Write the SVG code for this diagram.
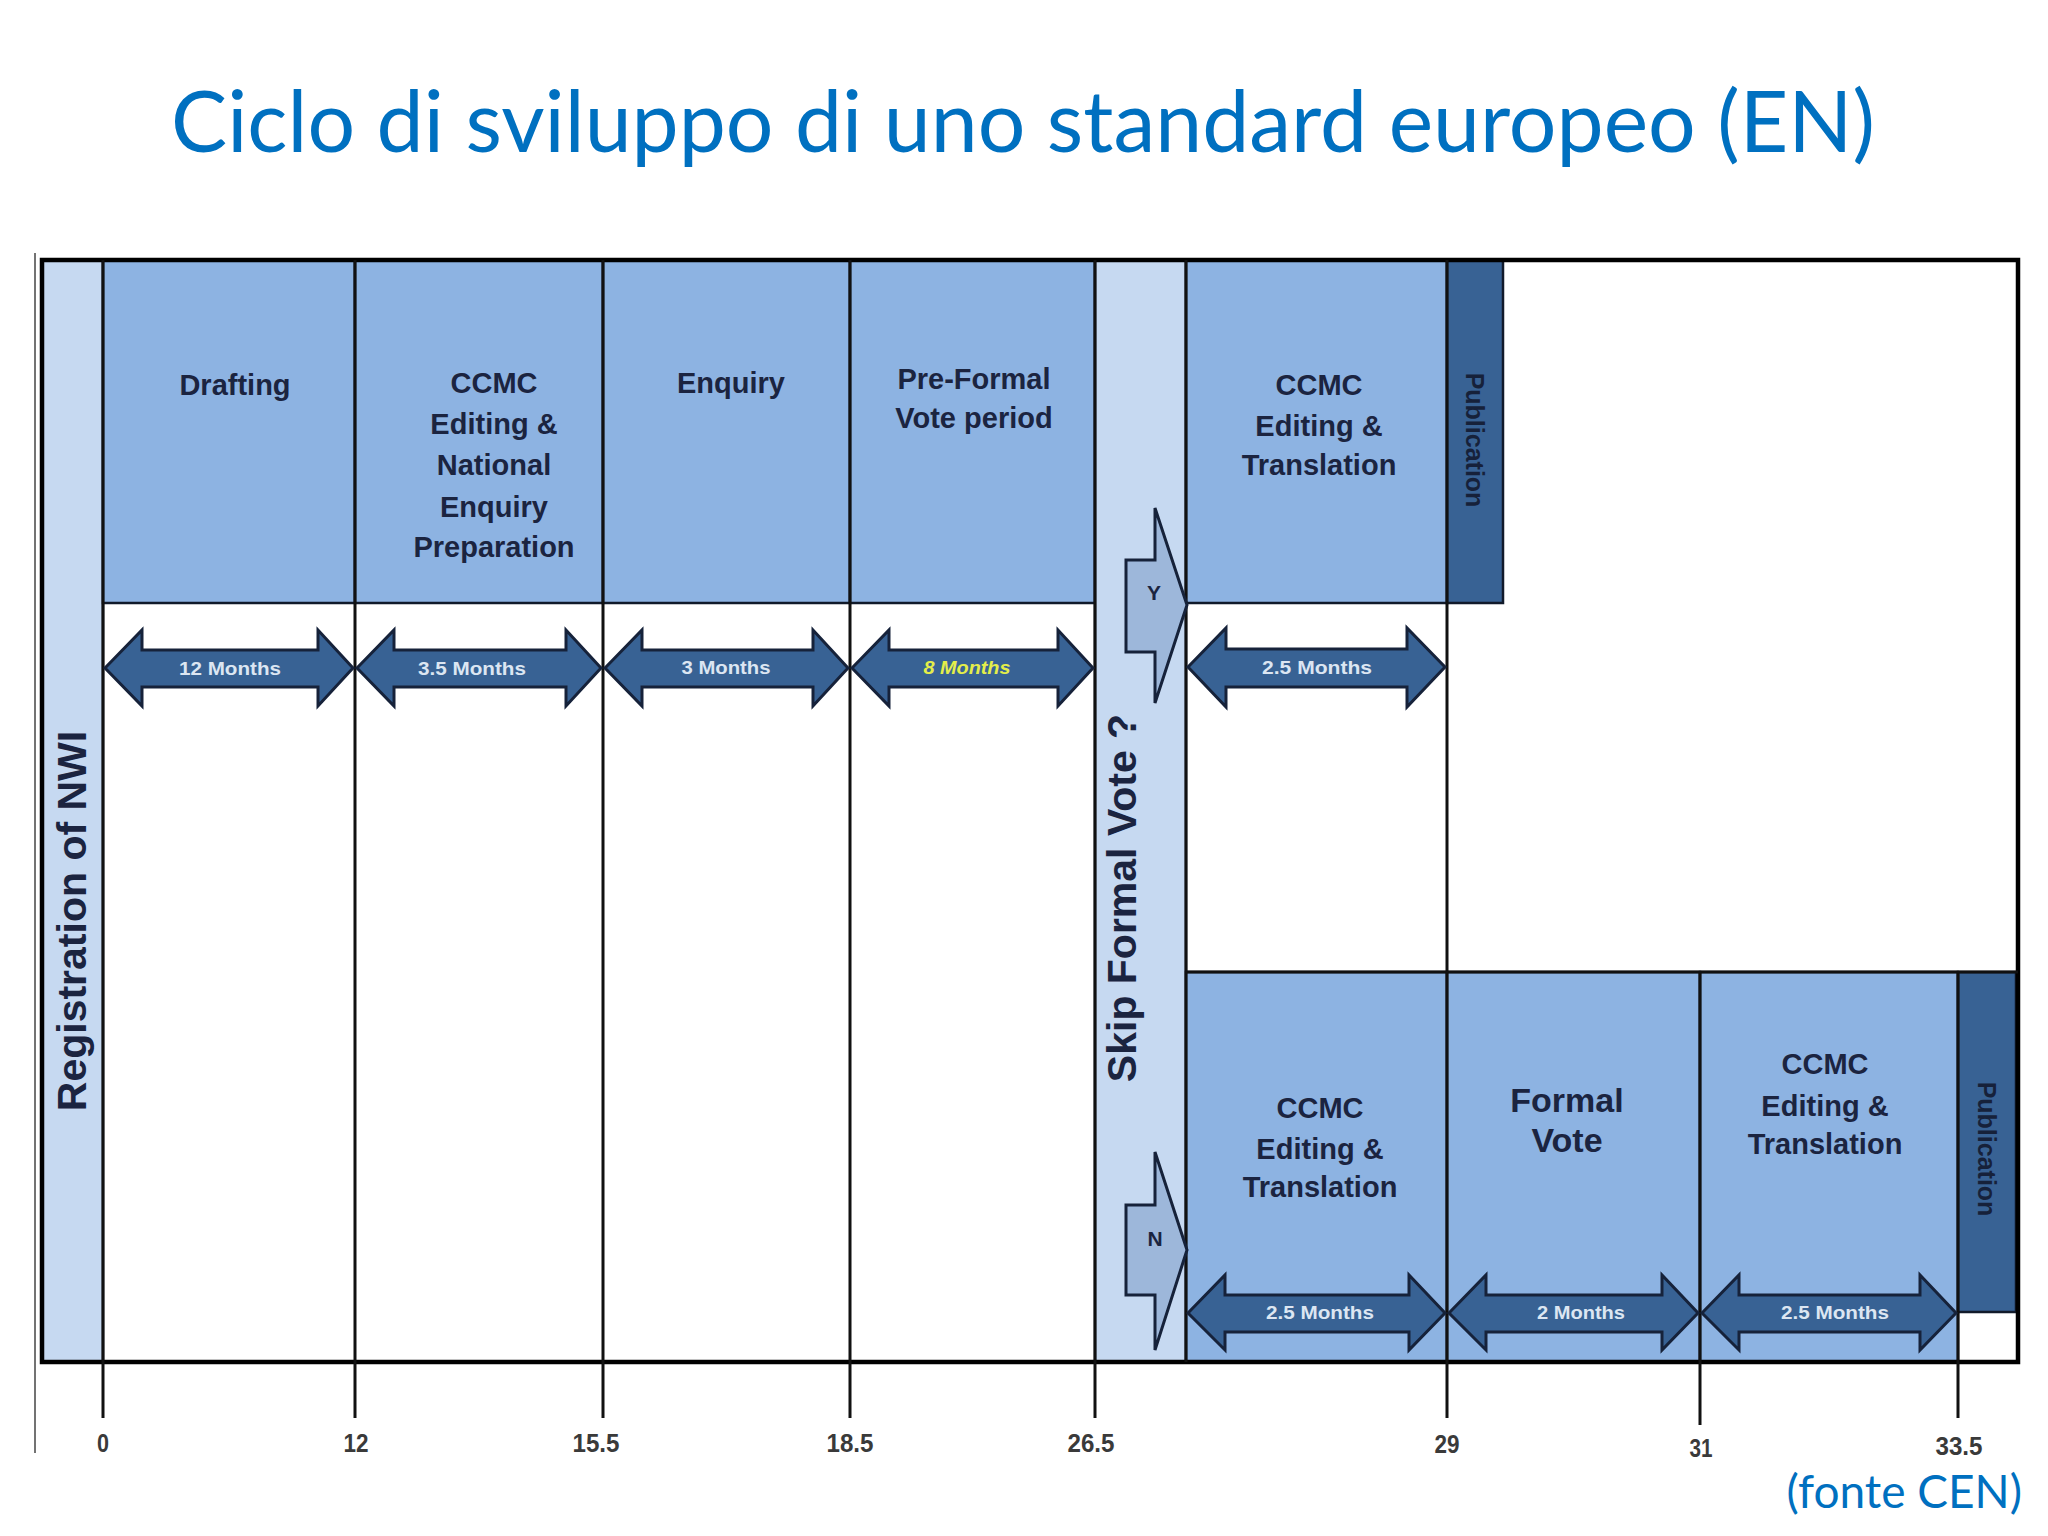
<svg xmlns="http://www.w3.org/2000/svg" width="2048" height="1536" viewBox="0 0 2048 1536">
<defs>
<style>
.phase{fill:#8DB3E2;stroke:#111a2a;stroke-width:2.5}
.light{fill:#C6D9F1;stroke:#111a2a;stroke-width:2.5}
.pub{fill:#386294;stroke:#111a2a;stroke-width:2.5}
.grid{stroke:#111;stroke-width:3;fill:none}
.dbl{fill:#386294;stroke:#16223a;stroke-width:3;stroke-linejoin:miter}
.yn{fill:#9DB7DA;stroke:#16223a;stroke-width:3}
.ptxt{font-family:"Liberation Sans",Arial,sans-serif;font-weight:bold;font-size:29px;fill:#1B2440;text-anchor:middle}
.big{font-size:34px}
.vtxt{font-family:"Liberation Sans",Arial,sans-serif;font-weight:bold;font-size:41px;fill:#1B2440;text-anchor:middle}
.pubtxt{font-family:"Liberation Sans",Arial,sans-serif;font-weight:bold;font-size:25px;fill:#16213a;text-anchor:middle}
.alab{font-family:"Liberation Sans",Arial,sans-serif;font-weight:bold;font-size:18px;fill:#DCE6F2;text-anchor:middle}
.tick{font-family:"Liberation Sans",Arial,sans-serif;font-weight:bold;font-size:26px;fill:#3a3a3a;text-anchor:middle}
.yl{font-family:"Liberation Sans",Arial,sans-serif;font-weight:bold;font-size:21px;fill:#1B2440;text-anchor:middle}
</style>
</defs>
<rect width="2048" height="1536" fill="#ffffff"/>
<text x="1023" y="152" font-family="Lato,'Open Sans',sans-serif" font-size="86" fill="#0070C0" text-anchor="middle" textLength="1704" lengthAdjust="spacingAndGlyphs">Ciclo di sviluppo di uno standard europeo (EN)</text>
<text x="2022" y="1508" font-family="Lato,'Open Sans',sans-serif" font-size="46" fill="#0070C0" text-anchor="end">(fonte CEN)</text>

<line x1="35" y1="253" x2="35" y2="1453" stroke="#444" stroke-width="1.5"/>

<g id="reg"><rect class="light" x="42" y="260" width="61" height="1102"/>
<text class="vtxt" transform="translate(86,921) rotate(-90)">Registration of NWI</text></g>
<g id="drafting"><rect class="phase" x="103" y="260" width="252" height="343"/>
<text class="ptxt" x="235" y="395">Drafting</text></g>
<g id="ccmc-enquiry-prep"><rect class="phase" x="355" y="260" width="248" height="343"/>
<text class="ptxt" x="494" y="393">CCMC</text><text class="ptxt" x="494" y="434">Editing &amp;</text><text class="ptxt" x="494" y="475">National</text><text class="ptxt" x="494" y="517">Enquiry</text><text class="ptxt" x="494" y="557">Preparation</text></g>
<g id="enquiry"><rect class="phase" x="603" y="260" width="247" height="343"/>
<text class="ptxt" x="731" y="393">Enquiry</text></g>
<g id="preformal"><rect class="phase" x="850" y="260" width="245" height="343"/>
<text class="ptxt" x="974" y="389">Pre-Formal</text><text class="ptxt" x="974" y="428">Vote period</text></g>
<g id="skip"><rect class="light" x="1095" y="260" width="91" height="1102"/>
<text class="vtxt" transform="translate(1136,898) rotate(-90)">Skip Formal Vote ?</text></g>
<g id="ccmc-y"><rect class="phase" x="1186" y="260" width="261" height="343"/>
<text class="ptxt" x="1319" y="395">CCMC</text><text class="ptxt" x="1319" y="436">Editing &amp;</text><text class="ptxt" x="1319" y="475">Translation</text></g>
<g id="pub-y"><rect class="pub" x="1447" y="260" width="56" height="343"/>
<text class="pubtxt" transform="translate(1466,440) rotate(90)">Publication</text></g>
<g id="ccmc-n"><rect class="phase" x="1186" y="972" width="261" height="390"/>
<text class="ptxt" x="1320" y="1118">CCMC</text><text class="ptxt" x="1320" y="1159">Editing &amp;</text><text class="ptxt" x="1320" y="1197">Translation</text></g>
<g id="formal-vote"><rect class="phase" x="1447" y="972" width="253" height="390"/>
<text class="ptxt big" x="1567" y="1112">Formal</text><text class="ptxt big" x="1567" y="1152">Vote</text></g>
<g id="ccmc-final"><rect class="phase" x="1700" y="972" width="258" height="390"/>
<text class="ptxt" x="1825" y="1074">CCMC</text><text class="ptxt" x="1825" y="1116">Editing &amp;</text><text class="ptxt" x="1825" y="1154">Translation</text></g>
<g id="pub-n"><rect class="pub" x="1958" y="972" width="58" height="340"/>
<text class="pubtxt" transform="translate(1978,1149) rotate(90)">Publication</text></g>

<g id="grid">
<rect x="42" y="260" width="1976" height="1102" fill="none" stroke="#000" stroke-width="4.5"/>
<line class="grid" x1="103" y1="260" x2="103" y2="1418"/>
<line class="grid" x1="355" y1="260" x2="355" y2="1418"/>
<line class="grid" x1="603" y1="260" x2="603" y2="1418"/>
<line class="grid" x1="850" y1="260" x2="850" y2="1418"/>
<line class="grid" x1="1095" y1="260" x2="1095" y2="1418"/>
<line class="grid" x1="1186" y1="260" x2="1186" y2="1362"/>
<line class="grid" x1="1447" y1="260" x2="1447" y2="1418"/>
<line class="grid" x1="1700" y1="972" x2="1700" y2="1425"/>
<line class="grid" x1="1958" y1="972" x2="1958" y2="1418"/>
<line class="grid" x1="1186" y1="972" x2="2018" y2="972"/>
</g>

<g id="connectors">
<path class="dbl" d="M105,668 L142,630 L142,650 L318,650 L318,630 L353,668 L318,706 L318,687 L142,687 L142,706 Z"/>
<path class="dbl" d="M357,668 L394,630 L394,650 L566,650 L566,630 L601,668 L566,706 L566,687 L394,687 L394,706 Z"/>
<path class="dbl" d="M605,668 L642,630 L642,650 L813,650 L813,630 L848,668 L813,706 L813,687 L642,687 L642,706 Z"/>
<path class="dbl" d="M852,668 L889,630 L889,650 L1058,650 L1058,630 L1093,668 L1058,706 L1058,687 L889,687 L889,706 Z"/>
<path class="dbl" d="M1188,667 L1226,628 L1226,649 L1407,649 L1407,628 L1445,667 L1407,707 L1407,687 L1226,687 L1226,707 Z"/>
<path class="dbl" d="M1188,1313 L1225,1275 L1225,1295 L1409,1295 L1409,1275 L1445,1313 L1409,1350 L1409,1332 L1225,1332 L1225,1350 Z"/>
<path class="dbl" d="M1449,1313 L1486,1275 L1486,1295 L1662,1295 L1662,1275 L1698,1313 L1662,1350 L1662,1332 L1486,1332 L1486,1350 Z"/>
<path class="dbl" d="M1702,1313 L1739,1275 L1739,1295 L1920,1295 L1920,1275 L1956,1313 L1920,1350 L1920,1332 L1739,1332 L1739,1350 Z"/>
<polygon class="yn" points="1126,560 1155,560 1155,508 1187,605 1155,703 1155,652 1126,652"/>
<polygon class="yn" points="1126,1205 1155,1205 1155,1152 1187,1250 1155,1350 1155,1295 1126,1295"/>
<text class="alab" x="230" y="675" textLength="102" lengthAdjust="spacingAndGlyphs">12 Months</text>
<text class="alab" x="472" y="675" textLength="108" lengthAdjust="spacingAndGlyphs">3.5 Months</text>
<text class="alab" x="726" y="674" textLength="89" lengthAdjust="spacingAndGlyphs">3 Months</text>
<text class="alab" x="967" y="674" textLength="87" lengthAdjust="spacingAndGlyphs" style="fill:#E4EE4A;font-style:italic">8 Months</text>
<text class="alab" x="1317" y="674" textLength="110" lengthAdjust="spacingAndGlyphs">2.5 Months</text>
<text class="alab" x="1320" y="1319" textLength="108" lengthAdjust="spacingAndGlyphs">2.5 Months</text>
<text class="alab" x="1581" y="1319" textLength="88" lengthAdjust="spacingAndGlyphs">2 Months</text>
<text class="alab" x="1835" y="1319" textLength="108" lengthAdjust="spacingAndGlyphs">2.5 Months</text>
<text class="yl" x="1154" y="600">Y</text>
<text class="yl" x="1155" y="1246">N</text>
</g>

<g id="timeline">
<text class="tick" x="103" y="1452" textLength="12" lengthAdjust="spacingAndGlyphs">0</text>
<text class="tick" x="356" y="1452" textLength="25" lengthAdjust="spacingAndGlyphs">12</text>
<text class="tick" x="596" y="1452" textLength="47" lengthAdjust="spacingAndGlyphs">15.5</text>
<text class="tick" x="850" y="1452" textLength="47" lengthAdjust="spacingAndGlyphs">18.5</text>
<text class="tick" x="1091" y="1452" textLength="47" lengthAdjust="spacingAndGlyphs">26.5</text>
<text class="tick" x="1447" y="1453" textLength="25" lengthAdjust="spacingAndGlyphs">29</text>
<text class="tick" x="1701" y="1457" textLength="23" lengthAdjust="spacingAndGlyphs">31</text>
<text class="tick" x="1959" y="1455" textLength="47" lengthAdjust="spacingAndGlyphs">33.5</text>
</g>
</svg>
